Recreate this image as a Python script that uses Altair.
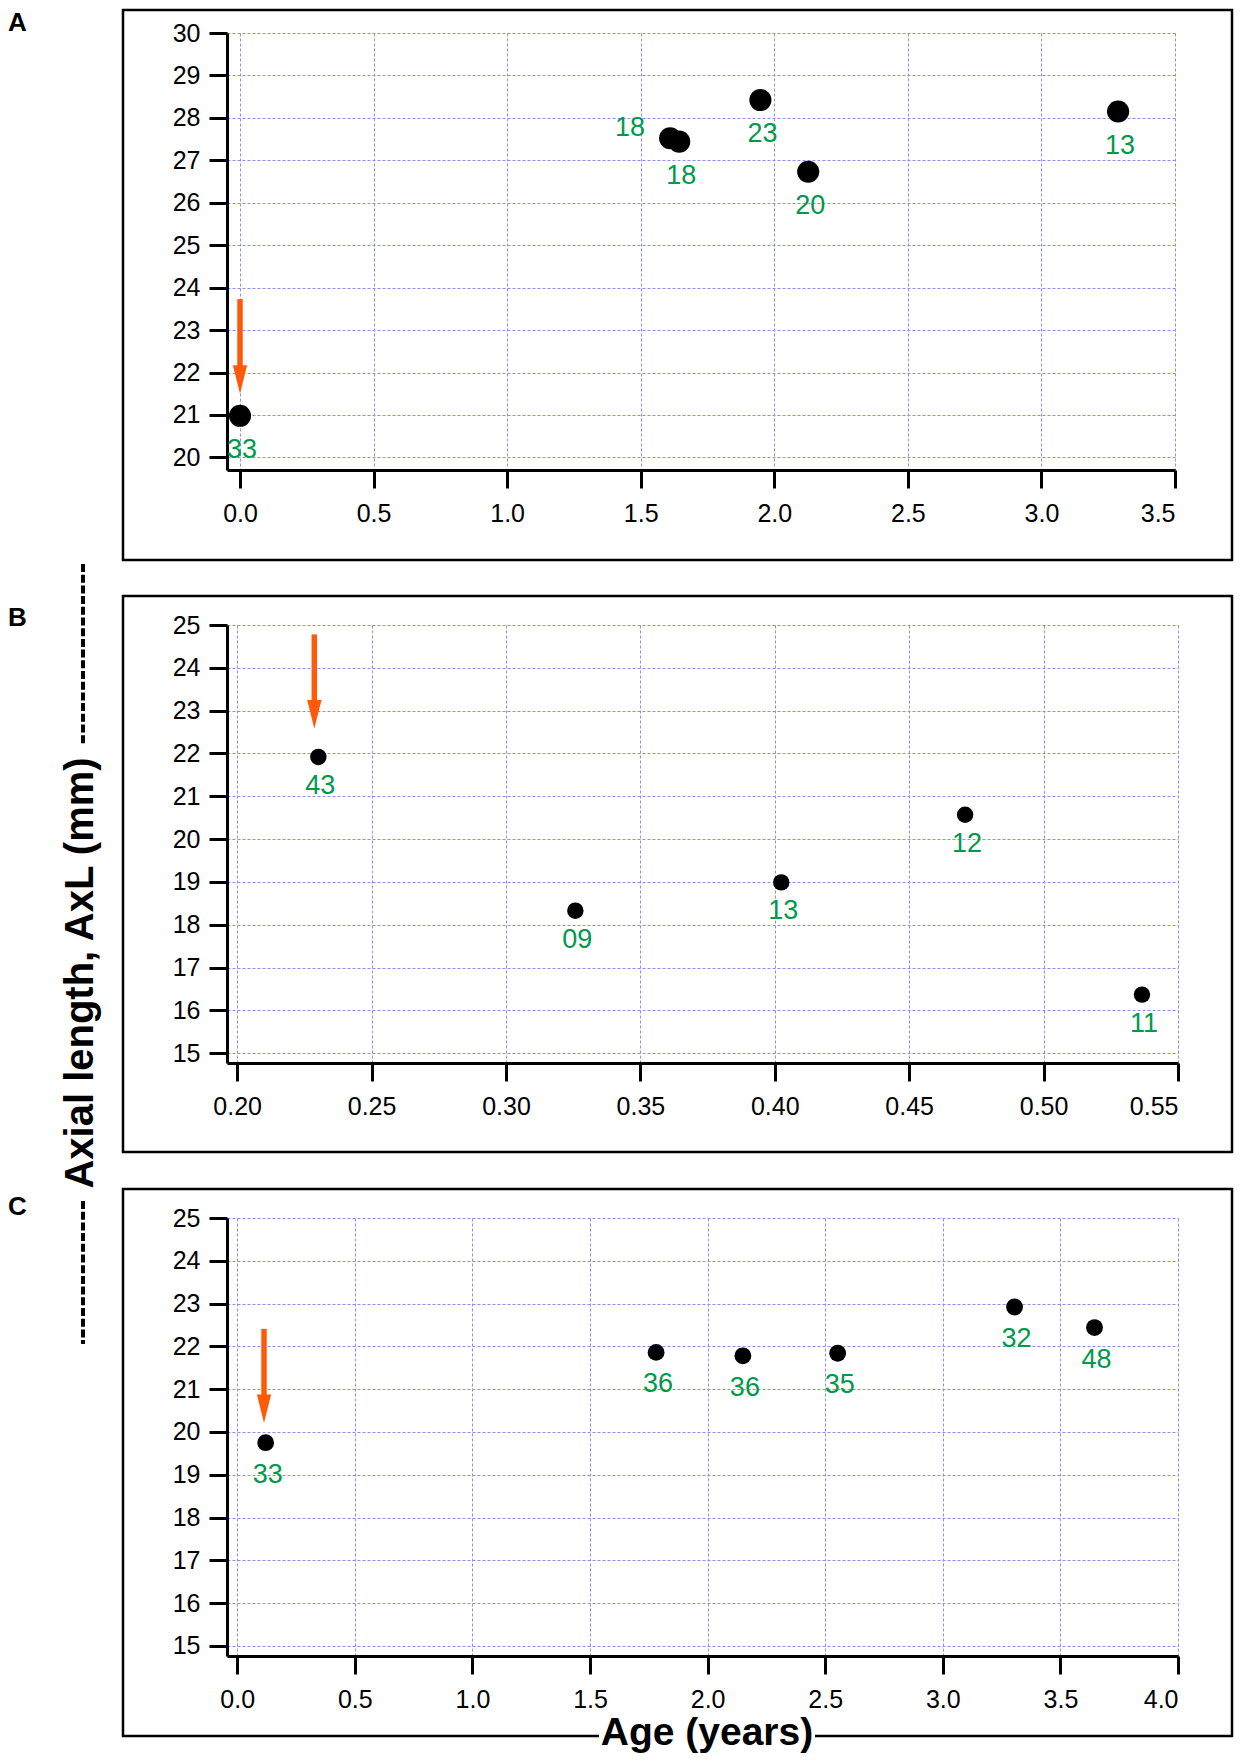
import altair as alt
import pandas as pd

# ---------------- data ----------------
# Panel A
a_age = [0.000, 1.610, 1.644, 1.948, 2.127, 3.287]
a_axl = [20.98, 27.52, 27.44, 28.42, 26.73, 28.15]
a_lab = ["33", "18", "18", "23", "20", "13"]
a_side = ["below", "left", "below", "below", "below", "below"]
a_arrow_age = [0.0]
a_arrow_from = [23.73]
a_arrow_to = [21.50]
a_xticks = [0.0, 0.5, 1.0, 1.5, 2.0, 2.5, 3.0, 3.5]
a_yticks = [20, 21, 22, 23, 24, 25, 26, 27, 28, 29, 30]

# Panel B
b_age = [0.2302, 0.3258, 0.4024, 0.4708, 0.5366]
b_axl = [21.92, 18.33, 18.99, 20.57, 16.37]
b_lab = ["43", "09", "13", "12", "11"]
b_side = ["below", "below", "below", "below", "below"]
b_arrow_age = [0.2287]
b_arrow_from = [24.78]
b_arrow_to = [22.58]
b_xticks = [0.20, 0.25, 0.30, 0.35, 0.40, 0.45, 0.50, 0.55]
b_yticks = [15, 16, 17, 18, 19, 20, 21, 22, 23, 24, 25]

# Panel C
c_age = [0.121, 1.781, 2.150, 2.553, 3.305, 3.645]
c_axl = [19.75, 21.86, 21.78, 21.84, 22.92, 22.44]
c_lab = ["33", "36", "36", "35", "32", "48"]
c_side = ["below", "below", "below", "below", "below", "below"]
c_arrow_age = [0.114]
c_arrow_from = [22.41]
c_arrow_to = [20.21]
c_xticks = [0.0, 0.5, 1.0, 1.5, 2.0, 2.5, 3.0, 3.5, 4.0]
c_yticks = [15, 16, 17, 18, 19, 20, 21, 22, 23, 24, 25]

y_title = "Axial length, AxL (mm)"
x_title = "Age (years)"

# ---------------- styling ----------------
FONT = "Liberation Sans"
GREEN = "#00994c"
ORANGE = "#ff5a0a"
GRID = "#8e8ef0"
ARROW_HEAD = "M-0.5,-2L0.5,-2L0,0Z"


def one_row():
    return pd.DataFrame({"k": [0]})


def panel(age, axl, lab, side, arr_x, arr_from, arr_to, xdom, ydom, xticks, yticks,
          xfmt, w, h, pt_size, label_dy, frame, letter, letter_pos, extra):
    df = pd.DataFrame({"age": age, "axl": axl, "label": lab, "side": side})
    adf = pd.DataFrame({"age": arr_x, "axl": arr_to, "axl_top": arr_from})

    xenc = alt.X("age:Q",
                 scale=alt.Scale(domain=xdom, nice=False, zero=False),
                 axis=alt.Axis(values=xticks, format=xfmt, title=None))
    yenc = alt.Y("axl:Q",
                 scale=alt.Scale(domain=ydom, nice=False, zero=False),
                 axis=alt.Axis(values=yticks, format="d", title=None))

    fx1, fx2, fy1, fy2 = frame
    frame_l = alt.Chart(one_row()).mark_rect(
        filled=False, stroke="black", strokeWidth=2.5
    ).encode(x=alt.value(fx1), x2=alt.value(fx2), y=alt.value(fy1), y2=alt.value(fy2))

    letter_l = alt.Chart(one_row()).mark_text(
        text=letter, font=FONT, fontSize=26, fontWeight="bold", align="left",
        baseline="top", color="black"
    ).encode(x=alt.value(letter_pos[0]), y=alt.value(letter_pos[1]))

    shaft = alt.Chart(adf).mark_rule(
        color=ORANGE, strokeWidth=5.5, yOffset=-18
    ).encode(x=xenc, y=yenc, y2="axl_top:Q")
    head = alt.Chart(adf).mark_point(
        shape=ARROW_HEAD, size=818, filled=True, color=ORANGE, opacity=1, strokeWidth=0
    ).encode(x=xenc, y=yenc)

    base = alt.Chart(df)
    pts = base.mark_circle(size=pt_size, color="black", opacity=1).encode(x=xenc, y=yenc)
    lab_below = base.transform_filter(alt.datum.side == "below").mark_text(
        font=FONT, fontSize=27, color=GREEN, align="center", baseline="middle",
        dx=2, dy=label_dy
    ).encode(x=xenc, y=yenc, text="label:N")
    lab_left = base.transform_filter(alt.datum.side == "left").mark_text(
        font=FONT, fontSize=27, color=GREEN, align="right", baseline="middle",
        dx=-25, dy=-10
    ).encode(x=xenc, y=yenc, text="label:N")

    layers = [frame_l] + extra + [pts, shaft, head, lab_below, lab_left, letter_l]
    return alt.layer(*layers).properties(width=w, height=h)


# ---- decorations of the shared axis titles ----
ytitle_text = alt.Chart(one_row()).mark_text(
    text=y_title, font=FONT, fontSize=40, fontWeight="bold", angle=270,
    align="center", baseline="alphabetic", color="black"
).encode(x=alt.value(-134), y=alt.value(348))
dash_top = alt.Chart(one_row()).mark_rule(
    color="black", strokeWidth=4, strokeDash=[8, 2.7]
).encode(x=alt.value(-144), y=alt.value(-61), y2=alt.value(121))
dash_bot = alt.Chart(one_row()).mark_rule(
    color="black", strokeWidth=4, strokeDash=[8, 2.7]
).encode(x=alt.value(-144), y=alt.value(576), y2=alt.value(719))

# white gap in the bottom frame line behind the x title
xtitle_gap = alt.Chart(one_row()).mark_rect(color="white", opacity=1).encode(
    x=alt.value(372), x2=alt.value(588), y=alt.value(514), y2=alt.value(522)
)
xtitle_text = alt.Chart(one_row()).mark_text(
    text=x_title, font=FONT, fontSize=39, fontWeight="bold", align="center",
    baseline="alphabetic", color="black"
).encode(x=alt.value(480), y=alt.value(527))

pA = panel(a_age, a_axl, a_lab, a_side, a_arrow_age, a_arrow_from, a_arrow_to,
           [-0.0487, 3.5], [19.703, 30], a_xticks, a_yticks, ".1f",
           948, 437, 490, 34, (-104, 1005, -23, 527), "A", (-219, -23), [])
pB = panel(b_age, b_axl, b_lab, b_side, b_arrow_age, b_arrow_from, b_arrow_to,
           [0.19621, 0.55], [14.7735, 25], b_xticks, b_yticks, ".2f",
           951, 438, 270, 29, (-104, 1005, -29, 527), "B", (-219, -20),
           [dash_top, dash_bot, ytitle_text])
pC = panel(c_age, c_axl, c_lab, c_side, c_arrow_age, c_arrow_from, c_arrow_to,
           [-0.0434, 4.0], [14.766, 25], c_xticks, c_yticks, ".1f",
           951, 438, 284, 32, (-104, 1005, -29, 518), "C", (-219, -24),
           [xtitle_gap, xtitle_text])

chart = alt.vconcat(pA, pB, pC, spacing=155, bounds="flush").properties(
    padding=0, background="white"
).configure_view(
    strokeWidth=0
).configure_axis(
    domainColor="black", domainWidth=3, tickColor="black", tickWidth=3, tickSize=18,
    labelFont=FONT, labelFontSize=25, labelColor="black",
    grid=True, gridColor=GRID, gridDash=[3, 2], gridWidth=1, gridOpacity=1
).configure_axisX(
    labelPadding=13
).configure_axisY(
    labelPadding=9
)

chart.save("out.html", embed_options={"renderer": "svg", "actions": False})
